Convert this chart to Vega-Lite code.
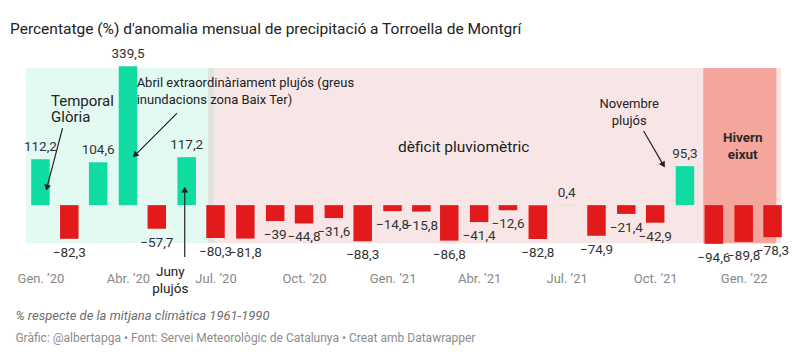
{
  "$schema": "https://vega.github.io/schema/vega-lite/v6.json",
  "width": 770,
  "height": 178,
  "autosize": "none",
  "padding": {"left": 21, "top": 66, "right": 9, "bottom": 112},
  "config": {
    "font": "Roboto",
    "view": {"stroke": null},
    "locale": {"number": {"decimal": ",", "thousands": ".", "grouping": [3], "currency": ["", " €"], "minus": "−"}}
  },
  "title": {
    "text": "Percentatge (%) d'anomalia mensual de precipitació a Torroella de Montgrí",
    "anchor": "start",
    "frame": "group",
    "dx": -11,
    "offset": 10,
    "fontSize": 15.5,
    "fontWeight": "normal",
    "color": "#222222",
    "font": "Roboto"
  },
  "datasets": {
    "months": [
      {"date": "2020-01-16", "v": 112.2},
      {"date": "2020-02-15", "v": -82.3},
      {"date": "2020-03-16", "v": 104.6},
      {"date": "2020-04-16", "v": 339.5},
      {"date": "2020-05-16", "v": -57.7},
      {"date": "2020-06-16", "v": 117.2},
      {"date": "2020-07-16", "v": -80.3},
      {"date": "2020-08-16", "v": -81.8},
      {"date": "2020-09-16", "v": -39},
      {"date": "2020-10-16", "v": -44.8},
      {"date": "2020-11-16", "v": -31.6},
      {"date": "2020-12-16", "v": -88.3},
      {"date": "2021-01-16", "v": -14.8},
      {"date": "2021-02-15", "v": -15.8},
      {"date": "2021-03-16", "v": -86.8},
      {"date": "2021-04-16", "v": -41.4},
      {"date": "2021-05-16", "v": -12.6},
      {"date": "2021-06-16", "v": -82.8},
      {"date": "2021-07-16", "v": 0.4},
      {"date": "2021-08-16", "v": -74.9},
      {"date": "2021-09-16", "v": -21.4},
      {"date": "2021-10-16", "v": -42.9},
      {"date": "2021-11-16", "v": 95.3},
      {"date": "2021-12-16", "v": -94.6},
      {"date": "2022-01-16", "v": -89.8},
      {"date": "2022-02-15", "v": -78.3}
    ],
    "periods": [
      {"period": "pluges", "start": "2020-01-01", "end": "2020-07-08"},
      {"period": "transició", "start": "2020-07-08", "end": "2020-07-15"},
      {"period": "dèficit", "start": "2020-07-15", "end": "2022-02-24"},
      {"period": "hivern", "start": "2021-12-05", "end": "2022-02-19"}
    ],
    "arrows": [
      {"id": "gloria", "x1": "2020-02-08", "y1": 188, "x2": "2020-01-23", "y2": 45},
      {"id": "abril", "x1": "2020-06-06", "y1": 225, "x2": "2020-04-24", "y2": 123.5},
      {"id": "juny", "x1": "2020-06-14", "y1": -127, "x2": "2020-06-14", "y2": 35.5},
      {"id": "novembre", "x1": "2021-10-04", "y1": 181, "x2": "2021-10-24", "y2": 100.3}
    ]
  },
  "layer": [
    {
      "data": {"name": "periods"},
      "mark": {"type": "rect"},
      "encoding": {
        "x": {"field": "start", "type": "temporal", "scale": {"domain": [{"year": 2020, "month": 1, "date": 1}, {"year": 2022, "month": 3, "date": 1}]}, "axis": {
          "values": [{"year": 2020, "month": 1, "date": 16}, {"year": 2020, "month": 4, "date": 16}, {"year": 2020, "month": 7, "date": 16}, {"year": 2020, "month": 10, "date": 16}, {"year": 2021, "month": 1, "date": 16}, {"year": 2021, "month": 4, "date": 16}, {"year": 2021, "month": 7, "date": 16}, {"year": 2021, "month": 10, "date": 16}, {"year": 2022, "month": 1, "date": 16}],
          "labelExpr": "['Gen.','Feb.','Mar.','Abr.','Mai.','Jun.','Jul.','Ago.','Set.','Oct.','Nov.','Des.'][month(datum.value)] + ' ’' + timeFormat(datum.value, '%y')",
          "title": null, "domain": false, "ticks": false, "grid": false,
          "labelPadding": 28, "labelFontSize": 13, "labelColor": "#888888", "labelFont": "Roboto", "labelBaseline": "top"
        }},
        "x2": {"field": "end"},
        "y": {"datum": 335, "type": "quantitative", "scale": {"domain": [-95, 340], "nice": false, "zero": false}, "axis": null},
        "y2": {"datum": -93},
        "color": {"field": "period", "type": "nominal", "legend": null, "scale": {"domain": ["pluges", "transició", "dèficit", "hivern"], "range": ["#e3faf3", "#e0e4df", "#f8e6e6", "#f4a69d"]}}
      }
    },
    {
      "data": {"name": "months"},
      "mark": {"type": "bar", "width": 18.5},
      "encoding": {
        "x": {"field": "date", "type": "temporal"},
        "y": {"field": "v", "type": "quantitative"},
        "color": {"condition": {"test": "datum.v > 0", "value": "#0fdba2"}, "value": "#e31a1c"}
      }
    },
    {
      "mark": {"type": "rule", "color": "#222222", "strokeWidth": 1.3},
      "encoding": {"y": {"datum": 0, "type": "quantitative"}}
    },
    {
      "data": {"name": "months"},
      "transform": [{"filter": "datum.v > 0"}],
      "mark": {"type": "text", "baseline": "bottom", "dy": -5, "fontSize": 13.5, "color": "#333333", "font": "Roboto"},
      "encoding": {
        "x": {"field": "date", "type": "temporal"},
        "y": {"field": "v", "type": "quantitative"},
        "text": {"field": "v", "type": "quantitative", "format": ".1~f"}
      }
    },
    {
      "data": {"name": "months"},
      "transform": [{"filter": "datum.v <= 0"}],
      "mark": {"type": "text", "baseline": "top", "dy": 7, "fontSize": 13.5, "color": "#333333", "font": "Roboto"},
      "encoding": {
        "x": {"field": "date", "type": "temporal"},
        "y": {"field": "v", "type": "quantitative"},
        "text": {"field": "v", "type": "quantitative", "format": ".1~f"}
      }
    },
    {
      "data": {"name": "arrows"},
      "mark": {"type": "rule", "color": "#222222", "strokeWidth": 1.2},
      "encoding": {
        "x": {"field": "x1", "type": "temporal"},
        "y": {"field": "y1", "type": "quantitative"},
        "x2": {"field": "x2"},
        "y2": {"field": "y2"}
      }
    },
    {
      "data": {"name": "arrows"},
      "transform": [{"filter": "datum.id == 'gloria'"}],
      "mark": {"type": "point", "shape": "triangle", "filled": true, "size": 45, "angle": 194.5, "color": "#222222", "opacity": 1},
      "encoding": {"x": {"field": "x2", "type": "temporal"}, "y": {"field": "y2", "type": "quantitative"}}
    },
    {
      "data": {"name": "arrows"},
      "transform": [{"filter": "datum.id == 'abril'"}],
      "mark": {"type": "point", "shape": "triangle", "filled": true, "size": 45, "angle": 225, "color": "#222222", "opacity": 1},
      "encoding": {"x": {"field": "x2", "type": "temporal"}, "y": {"field": "y2", "type": "quantitative"}}
    },
    {
      "data": {"name": "arrows"},
      "transform": [{"filter": "datum.id == 'juny'"}],
      "mark": {"type": "point", "shape": "triangle", "filled": true, "size": 45, "angle": 0, "color": "#222222", "opacity": 1},
      "encoding": {"x": {"field": "x2", "type": "temporal"}, "y": {"field": "y2", "type": "quantitative"}}
    },
    {
      "data": {"name": "arrows"},
      "transform": [{"filter": "datum.id == 'novembre'"}],
      "mark": {"type": "point", "shape": "triangle", "filled": true, "size": 45, "angle": 149.7, "color": "#222222", "opacity": 1},
      "encoding": {"x": {"field": "x2", "type": "temporal"}, "y": {"field": "y2", "type": "quantitative"}}
    },
    {
      "data": {"values": [{"x": "2020-01-27", "y": 254.4, "label": ["Temporal", "Glòria"]}]},
      "mark": {"type": "text", "align": "left", "baseline": "middle", "fontSize": 15, "lineHeight": 16, "color": "#222222", "font": "Roboto"},
      "encoding": {"x": {"field": "x", "type": "temporal"}, "y": {"field": "y", "type": "quantitative"}, "text": {"field": "label"}}
    },
    {
      "data": {"values": [{"x": "2020-04-25", "y": 298.4, "label": ["Abril extraordinàriament plujós (greus", "inundacions zona Baix Ter)"]}]},
      "mark": {"type": "text", "align": "left", "baseline": "middle", "fontSize": 13, "lineHeight": 17, "color": "#222222", "font": "Roboto"},
      "encoding": {"x": {"field": "x", "type": "temporal"}, "y": {"field": "y", "type": "quantitative"}, "text": {"field": "label"}}
    },
    {
      "data": {"values": [{"x": "2020-05-30", "y": -163.9, "label": ["Juny", "plujós"]}]},
      "mark": {"type": "text", "align": "center", "baseline": "middle", "fontSize": 13.5, "lineHeight": 17, "color": "#222222", "font": "Roboto"},
      "encoding": {"x": {"field": "x", "type": "temporal"}, "y": {"field": "y", "type": "quantitative"}, "text": {"field": "label"}}
    },
    {
      "data": {"values": [{"x": "2021-03-31", "y": 141.9, "label": "dèficit pluviomètric"}]},
      "mark": {"type": "text", "align": "center", "baseline": "middle", "fontSize": 15.5, "color": "#222222", "font": "Roboto"},
      "encoding": {"x": {"field": "x", "type": "temporal"}, "y": {"field": "y", "type": "quantitative"}, "text": {"field": "label"}}
    },
    {
      "data": {"values": [{"x": "2021-09-19", "y": 247, "label": ["Novembre", "plujós"]}]},
      "mark": {"type": "text", "align": "center", "baseline": "middle", "fontSize": 13, "lineHeight": 17, "color": "#222222", "font": "Roboto"},
      "encoding": {"x": {"field": "x", "type": "temporal"}, "y": {"field": "y", "type": "quantitative"}, "text": {"field": "label"}}
    },
    {
      "data": {"values": [{"x": "2022-01-15", "y": 163.9, "label": ["Hivern", "eixut"]}]},
      "mark": {"type": "text", "align": "center", "baseline": "middle", "fontSize": 13.5, "fontWeight": "bold", "lineHeight": 17, "color": "#2a2a2a", "font": "Roboto"},
      "encoding": {"x": {"field": "x", "type": "temporal"}, "y": {"field": "y", "type": "quantitative"}, "text": {"field": "label"}}
    },
    {
      "data": {"values": [{"x": "2019-12-21", "y": -271.5, "label": "% respecte de la mitjana climàtica 1961-1990"}]},
      "mark": {"type": "text", "align": "left", "baseline": "middle", "fontSize": 13, "fontStyle": "italic", "color": "#6e6e6e", "font": "Roboto"},
      "encoding": {"x": {"field": "x", "type": "temporal"}, "y": {"field": "y", "type": "quantitative"}, "text": {"field": "label"}}
    },
    {
      "data": {"values": [{"x": "2019-12-21", "y": -325.4, "label": "Gràfic: @albertapga • Font: Servei Meteorològic de Catalunya • Creat amb Datawrapper"}]},
      "mark": {"type": "text", "align": "left", "baseline": "middle", "fontSize": 12, "color": "#8c8c8c", "font": "Roboto"},
      "encoding": {"x": {"field": "x", "type": "temporal"}, "y": {"field": "y", "type": "quantitative"}, "text": {"field": "label"}}
    }
  ]
}
